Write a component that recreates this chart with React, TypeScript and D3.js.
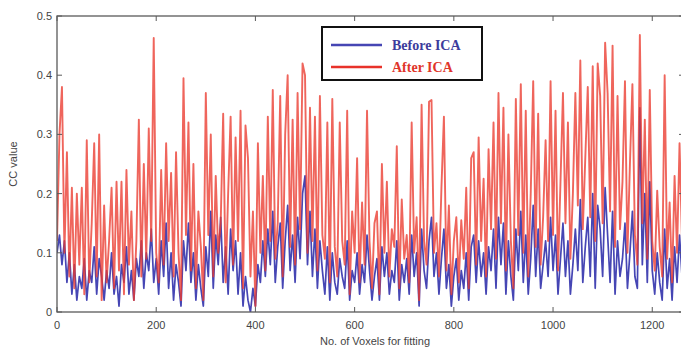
import React from "react";
import * as d3 from "d3";

const STEP = 5;
const xTicks = [0, 200, 400, 600, 800, 1000, 1200];
const yTicks = [0, 0.1, 0.2, 0.3, 0.4, 0.5];
const seriesNames = ["Before ICA", "After ICA"];

const afterICA = [
  0.12, 0.30, 0.38, 0.10, 0.27, 0.06, 0.21, 0.04, 0.20, 0.08,
  0.21, 0.03, 0.29, 0.05, 0.15, 0.285, 0.06, 0.30, 0.02, 0.18,
  0.05, 0.12, 0.21, 0.04, 0.22, 0.07, 0.22, 0.03, 0.24, 0.08,
  0.17, 0.02, 0.12, 0.325, 0.06, 0.25, 0.09, 0.31, 0.12, 0.463,
  0.10, 0.05, 0.24, 0.08, 0.285, 0.12, 0.235, 0.06, 0.27, 0.10,
  0.02, 0.395, 0.13, 0.32, 0.07, 0.25, 0.04, 0.17, 0.11, 0.02,
  0.37, 0.13, 0.30, 0.06, 0.23, 0.10, 0.15, 0.335, 0.05, 0.20,
  0.33, 0.08, 0.295, 0.12, 0.34, 0.04, 0.315, 0.26, 0.06, 0.17,
  0.01, 0.285, 0.10, 0.23, 0.07, 0.33, 0.12, 0.375, 0.09, 0.15,
  0.365, 0.06, 0.30, 0.40, 0.11, 0.325, 0.08, 0.37, 0.14, 0.42,
  0.40, 0.10, 0.345, 0.12, 0.33, 0.07, 0.365, 0.13, 0.09, 0.32,
  0.05, 0.36, 0.11, 0.06, 0.32, 0.12, 0.08, 0.34, 0.03, 0.17,
  0.10, 0.26, 0.05, 0.185, 0.08, 0.34, 0.12, 0.04, 0.15, 0.17,
  0.03, 0.25, 0.10, 0.22, 0.06, 0.14, 0.11, 0.28, 0.04, 0.19,
  0.09, 0.13, 0.05, 0.32, 0.10, 0.16, 0.02, 0.35, 0.12, 0.08,
  0.355, 0.358, 0.10, 0.15, 0.06, 0.21, 0.33, 0.07, 0.18, 0.03,
  0.12, 0.16, 0.05, 0.155, 0.09, 0.21, 0.04, 0.26, 0.27, 0.08,
  0.295, 0.12, 0.225, 0.06, 0.275, 0.14, 0.32, 0.09, 0.37, 0.15,
  0.345, 0.07, 0.30, 0.12, 0.04, 0.36, 0.13, 0.385, 0.10, 0.34,
  0.06, 0.20, 0.39, 0.11, 0.335, 0.08, 0.16, 0.29, 0.12, 0.39,
  0.13, 0.34, 0.07, 0.22, 0.37, 0.15, 0.32, 0.09, 0.20, 0.37,
  0.18, 0.425, 0.14, 0.26, 0.38, 0.16, 0.415, 0.12, 0.42, 0.365,
  0.15, 0.455, 0.37, 0.17, 0.45, 0.11, 0.365, 0.14, 0.22, 0.39,
  0.10, 0.25, 0.385, 0.13, 0.08, 0.468, 0.15, 0.325, 0.09, 0.375,
  0.12, 0.07, 0.205, 0.11, 0.06, 0.40, 0.09, 0.185, 0.05, 0.23,
  0.10, 0.285, 0.12,
];

const beforeICA = [
  0.10, 0.13, 0.08, 0.12, 0.05, 0.10, 0.03, 0.08, 0.02, 0.06,
  0.04, 0.09, 0.02, 0.07, 0.05, 0.11, 0.03, 0.09, 0.06, 0.02,
  0.07, 0.04, 0.10, 0.03, 0.06, 0.01, 0.08, 0.05, 0.11, 0.03,
  0.07, 0.02, 0.09, 0.06, 0.12, 0.04, 0.10, 0.07, 0.14, 0.05,
  0.09, 0.03, 0.12, 0.06, 0.15, 0.04, 0.10, 0.02, 0.08, 0.05,
  0.01, 0.12, 0.07, 0.15, 0.05, 0.10, 0.02, 0.08, 0.04, 0.01,
  0.11, 0.06, 0.17, 0.04, 0.13, 0.08, 0.16, 0.05, 0.11, 0.03,
  0.14, 0.07, 0.12, 0.03, 0.10, 0.01, 0.06, 0.02, 0.00, 0.04,
  0.01, 0.08, 0.05, 0.12, 0.06, 0.14, 0.08, 0.17, 0.05, 0.11,
  0.15, 0.04, 0.12, 0.18, 0.07, 0.13, 0.05, 0.16, 0.09, 0.20,
  0.23, 0.08, 0.17, 0.06, 0.14, 0.04, 0.12, 0.07, 0.03, 0.11,
  0.02, 0.10, 0.05, 0.03, 0.09, 0.06, 0.04, 0.12, 0.02, 0.07,
  0.05, 0.10, 0.03, 0.08, 0.05, 0.13, 0.07, 0.02, 0.06, 0.09,
  0.02, 0.11, 0.06, 0.10, 0.03, 0.07, 0.05, 0.12, 0.02, 0.08,
  0.05, 0.09, 0.03, 0.13, 0.06, 0.10, 0.01, 0.14, 0.07, 0.04,
  0.12, 0.16, 0.06, 0.10, 0.03, 0.09, 0.14, 0.04, 0.08, 0.01,
  0.06, 0.09, 0.02, 0.07, 0.04, 0.10, 0.02, 0.11, 0.13, 0.05,
  0.12, 0.06, 0.10, 0.03, 0.11, 0.07, 0.14, 0.04, 0.16, 0.08,
  0.15, 0.03, 0.12, 0.06, 0.02, 0.14, 0.07, 0.17, 0.05, 0.13,
  0.03, 0.09, 0.18, 0.06, 0.14, 0.04, 0.08, 0.12, 0.06, 0.16,
  0.07, 0.13, 0.03, 0.09, 0.15, 0.06, 0.12, 0.03, 0.08, 0.14,
  0.07, 0.19, 0.05, 0.11, 0.16, 0.06, 0.20, 0.04, 0.18, 0.14,
  0.06, 0.21, 0.13, 0.05, 0.17, 0.03, 0.12, 0.06, 0.09, 0.15,
  0.04, 0.10, 0.17, 0.06, 0.04, 0.345, 0.08, 0.20, 0.05, 0.22,
  0.07, 0.03, 0.10, 0.05, 0.02, 0.14, 0.04, 0.09, 0.02, 0.11,
  0.05, 0.13, 0.06,
];

const W = 681;
const H = 353;
const M = { left: 57, top: 16, right: 684, bottom: 312 };

export default function App() {
  const x = d3.scaleLinear().domain([0, 1264]).range([M.left, M.right]);
  const y = d3.scaleLinear().domain([0, 0.5]).range([M.bottom, M.top]);
  const line = d3
    .line<number>()
    .x((_, i) => x(i * STEP))
    .y((d) => y(d));
  const axisColor = "#5a5a5a";
  const textColor = "#444";
  const font = "'Liberation Sans', Arial, sans-serif";
  const legendX = 322;
  const legendY = 27;

  return (
    <svg
      width={W}
      height={H}
      style={{ position: "absolute", left: 0, top: 0, background: "#fff" }}
    >
      <defs>
        <clipPath id="plotClip">
          <rect x={M.left} y={M.top} width={M.right - M.left} height={M.bottom - M.top} />
        </clipPath>
      </defs>
      <rect x={0} y={0} width={W} height={H} fill="#fff" />
      <g clipPath="url(#plotClip)">
        <path
          d={line(beforeICA) || ""}
          fill="none"
          stroke="#4646b4"
          strokeWidth={1.7}
          strokeLinejoin="round"
        />
        <path
          d={line(afterICA) || ""}
          fill="none"
          stroke="#ea3a2e"
          strokeWidth={1.9}
          strokeOpacity={0.78}
          strokeLinejoin="round"
        />
      </g>
      {/* axes box */}
      <rect
        x={M.left}
        y={M.top}
        width={M.right - M.left}
        height={M.bottom - M.top}
        fill="none"
        stroke={axisColor}
        strokeWidth={1.3}
      />
      {xTicks.map((t) => (
        <g key={"xt" + t}>
          <line x1={x(t)} x2={x(t)} y1={M.bottom} y2={M.bottom - 5} stroke={axisColor} />
          <line x1={x(t)} x2={x(t)} y1={M.top} y2={M.top + 5} stroke={axisColor} />
          <text
            x={x(t)}
            y={M.bottom + 17}
            textAnchor="middle"
            fontFamily={font}
            fontSize={11}
            fill={textColor}
          >
            {t}
          </text>
        </g>
      ))}
      {yTicks.map((t) => (
        <g key={"yt" + t}>
          <line x1={M.left} x2={M.left + 5} y1={y(t)} y2={y(t)} stroke={axisColor} />
          <line x1={M.right} x2={M.right - 5} y1={y(t)} y2={y(t)} stroke={axisColor} />
          <text
            x={M.left - 5}
            y={y(t) + 4}
            textAnchor="end"
            fontFamily={font}
            fontSize={11}
            fill={textColor}
          >
            {t === 0 ? "0" : t.toFixed(1)}
          </text>
        </g>
      ))}
      <text
        x={375}
        y={345}
        textAnchor="middle"
        fontFamily={font}
        fontSize={11}
        fill={textColor}
      >
        No. of Voxels for fitting
      </text>
      <text
        transform={`translate(17,${(M.top + M.bottom) / 2}) rotate(-90)`}
        textAnchor="middle"
        fontFamily={font}
        fontSize={11}
        fill={textColor}
      >
        CC value
      </text>
      {/* legend */}
      <rect
        x={legendX}
        y={legendY}
        width={160}
        height={53}
        fill="#fff"
        stroke="#111"
        strokeWidth={2}
      />
      <line x1={legendX + 9} x2={legendX + 60} y1={legendY + 18} y2={legendY + 18} stroke="#4646b4" strokeWidth={2.5} />
      <line x1={legendX + 9} x2={legendX + 60} y1={legendY + 40} y2={legendY + 40} stroke="#e8322a" strokeWidth={2.5} />
      <text
        x={legendX + 70}
        y={legendY + 23}
        fontFamily="'Liberation Serif', 'Times New Roman', serif"
        fontWeight="bold"
        fontSize={14}
        fill="#3c3c9c"
      >
        {seriesNames[0]}
      </text>
      <text
        x={legendX + 70}
        y={legendY + 45}
        fontFamily="'Liberation Serif', 'Times New Roman', serif"
        fontWeight="bold"
        fontSize={14}
        fill="#e0352a"
      >
        {seriesNames[1]}
      </text>
    </svg>
  );
}
